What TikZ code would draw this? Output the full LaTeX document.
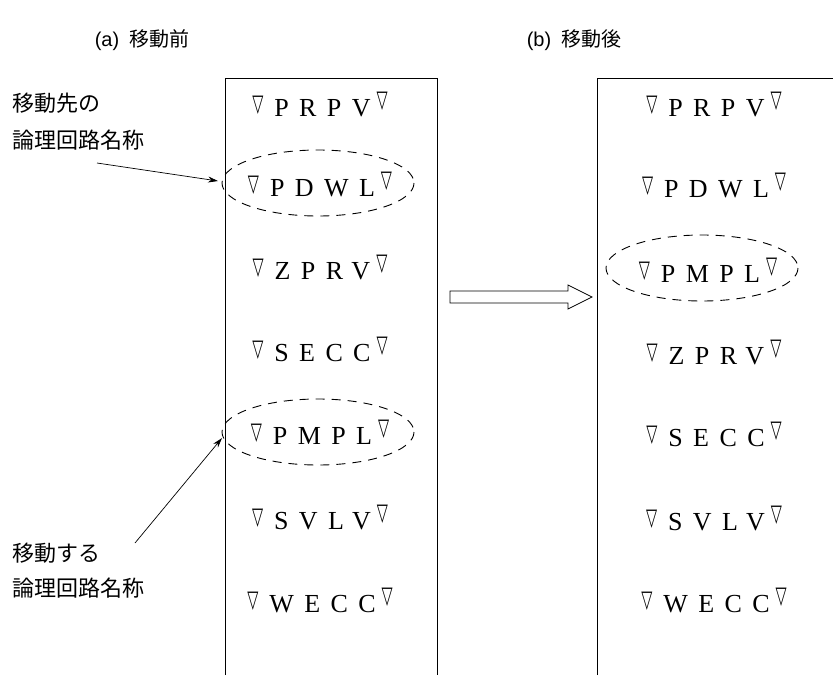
\documentclass[tikz,border=0pt]{standalone}
\usepackage{fontspec}
\usepackage{graphicx}
\usetikzlibrary{arrows.meta}
\newfontfamily\cjk{Noto Sans CJK JP}
\newfontfamily\itemfont[LetterSpace=40]{Liberation Serif}
\newfontfamily\dejavu{DejaVu Sans}
\newfontfamily\titlefont{Liberation Sans}
\newcommand{\tri}[1]{\raisebox{#1}{\scalebox{0.6}[1.0]{\fontsize{24}{24}\dejavu ▽}}}
\newcommand{\itm}[1]{\tri{5pt}\hspace{11pt}{\itemfont\fontsize{26}{26}\selectfont #1}\hspace{6pt}\tri{9pt}}
\tikzset{
  item/.style={inner sep=0pt, anchor=center},
  ell/.style={draw, dashed, dash pattern=on 9pt off 7pt, line width=0.9pt},
  boxline/.style={line width=1pt},
  lbl/.style={font=\cjk\fontsize{22}{22}\selectfont, anchor=west, inner sep=0pt},
  ttl/.style={font=\fontsize{20}{20}\selectfont, inner sep=0pt},
  pointer/.style={-{Stealth[length=10pt,width=6pt]}, line width=0.7pt}
}
\begin{document}
\begin{tikzpicture}[x=1pt,y=-1pt]
\useasboundingbox (0,0) rectangle (833,675);
% titles
\node[ttl] (ta) at (142,40) {{\titlefont (a)}\hspace{10pt}{\cjk 移動前}};
\node[ttl] (tb) at (574,40) {{\titlefont (b)}\hspace{10pt}{\cjk 移動後}};
% boxes
\coordinate (lbl1) at (225,675);
\coordinate (ltl) at (225,78);
\coordinate (ltr) at (437,78);
\coordinate (lbr) at (437,675);
\draw[boxline] (lbl1) -- (ltl) -- (ltr) -- (lbr);
\coordinate (rbl) at (597,675);
\coordinate (rtl) at (597,78);
\coordinate (rtr) at (833,78);
\draw[boxline] (rbl) -- (rtl) -- (rtr);
% left items
\node[item] (a1) at (320,104) {\itm{PRPV}};
\node[item] (a2) at (320,184) {\itm{PDWL}};
\node[item] (a3) at (320,267) {\itm{ZPRV}};
\node[item] (a4) at (320,349) {\itm{SECC}};
\node[item] (a5) at (320,432) {\itm{PMPL}};
\node[item] (a6) at (320,517) {\itm{SVLV}};
\node[item] (a7) at (320,600) {\itm{WECC}};
% right items
\node[item] (b1) at (714,104) {\itm{PRPV}};
\node[item] (b2) at (714,185) {\itm{PDWL}};
\node[item] (b3) at (708,270) {\itm{PMPL}};
\node[item] (b4) at (714,352) {\itm{ZPRV}};
\node[item] (b5) at (714,434) {\itm{SECC}};
\node[item] (b6) at (714,518) {\itm{SVLV}};
\node[item] (b7) at (714,600) {\itm{WECC}};
% ellipses
\draw[ell] (318,183) ellipse [x radius=96, y radius=33];
\coordinate (e1w) at (218,181);
\draw[ell] (318,432) ellipse [x radius=96, y radius=33];
\coordinate (e2w) at (222,438);
\draw[ell] (702,268) ellipse [x radius=96, y radius=33];
% big arrow
\coordinate (arS) at (450,297);
\coordinate (arE) at (592,297);
\draw[line width=0.8pt] (450,291) -- (568,291) -- (568,285) -- (592,297) -- (568,309) -- (568,303) -- (450,303) -- cycle;
% labels
\node[lbl] (l1) at (12,103) {移動先の};
\node[lbl] (l2) at (12,140) {論理回路名称};
\node[lbl] (l3) at (12,553) {移動する};
\node[lbl] (l4) at (12,588) {論理回路名称};
\coordinate (p1) at (97,163);
\coordinate (p2) at (135,543);
\draw[pointer] (p1) -- (e1w);
\draw[pointer] (p2) -- (e2w);
\end{tikzpicture}
\end{document}
